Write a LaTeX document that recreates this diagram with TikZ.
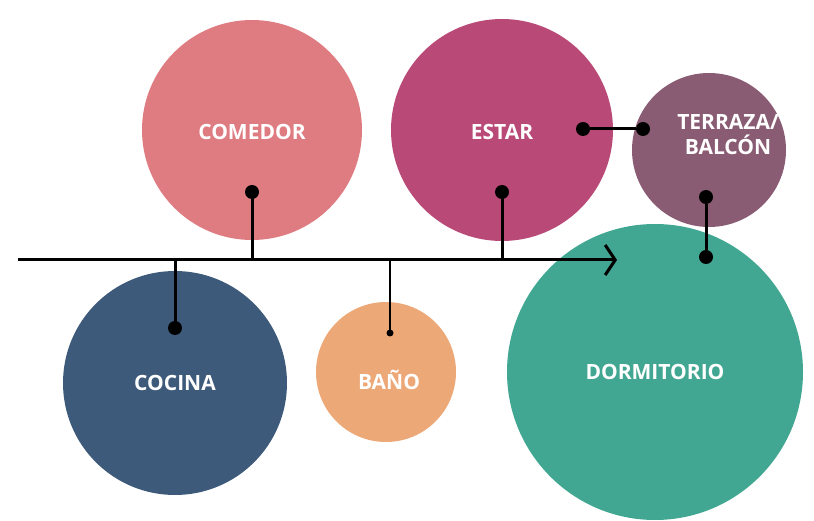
\documentclass[tikz,border=0pt]{standalone}
\usepackage{fontspec}
\setmainfont{Open Sans}
\usepackage{xcolor}
\usetikzlibrary{arrows.meta,positioning}

\definecolor{comedorc}{HTML}{DE7C82}
\definecolor{estarc}{HTML}{B94A78}
\definecolor{terrazac}{HTML}{8A5C74}
\definecolor{dormc}{HTML}{42A792}
\definecolor{cocinac}{HTML}{3E5A7A}
\definecolor{banoc}{HTML}{EDA878}

\begin{document}
\begin{tikzpicture}[x=1pt, y=-1pt,
    room/.style={circle, draw=none, inner sep=0pt},
    lbl/.style={text=white, font=\fontsize{21}{25}\selectfont\bfseries, align=center},
    dot/.style={circle, fill=black, inner sep=0pt, minimum size=14pt},
    smalldot/.style={circle, fill=black, inner sep=0pt, minimum size=7pt},
    link/.style={line width=3pt},
    axis/.style={-{Straight Barb[length=10pt, width=30pt, line width=3pt]}, line width=3pt}]

    \useasboundingbox (0,0) rectangle (814,521);

    % Rooms above the axis
    \node[room, fill=comedorc, minimum size=220pt] (comedor) at (252,130) {};
    \node[room, fill=estarc, minimum size=222pt] (estar) at (502,130) {};
    \node[room, fill=terrazac, minimum size=154pt] (terraza) at (709,150) {};

    % Rooms below the axis
    \node[room, fill=dormc, minimum size=296pt] (dormitorio) at (655,372) {};
    \node[room, fill=cocinac, minimum size=224pt] (cocina) at (175,383) {};
    \node[room, fill=banoc, minimum size=140pt] (bano) at (386,372) {};

    % Labels
    \node[lbl] (tcomedor) at (252,132) {COMEDOR};
    \node[lbl] (testar) at (502,132) {ESTAR};
    \node[lbl] (tterraza) at (728,135) {TERRAZA/\\BALCÓN};
    \node[lbl] (tdorm) at (655,372) {DORMITORIO};
    \node[lbl] (tcocina) at (175,383) {COCINA};
    \node[lbl] (tbano) at (389,380) {BAÑO};

    % Axis
    \coordinate (start) at (18,260);
    \coordinate (end) at (617,260);
    \draw[axis] (start) -- (end);

    % Connectors to the axis
    \node[dot] (dcomedor) at (252,192) {};
    \node[dot] (destar) at (502,192) {};
    \node[dot] (dcocina) at (175,328) {};
    \node[smalldot] (dbano) at (390,333) {};
    \coordinate (acomedor) at (252,260);
    \coordinate (aestar) at (502,260);
    \coordinate (acocina) at (175,260);
    \coordinate (abano) at (390,260);
    \draw[link] (dcomedor.center) -- (acomedor);
    \draw[link] (destar.center) -- (aestar);
    \draw[link] (dcocina.center) -- (acocina);
    \draw[line width=1.6pt] (dbano.center) -- (abano);

    % Terraza links
    \node[dot] (e1) at (583,129) {};
    \node[dot] (e2) at (643,129) {};
    \node[dot] (t1) at (706,197) {};
    \node[dot] (t2) at (706,257) {};
    \draw[link] (e1) -- (e2);
    \draw[link] (t1) -- (t2);
\end{tikzpicture}
\end{document}
